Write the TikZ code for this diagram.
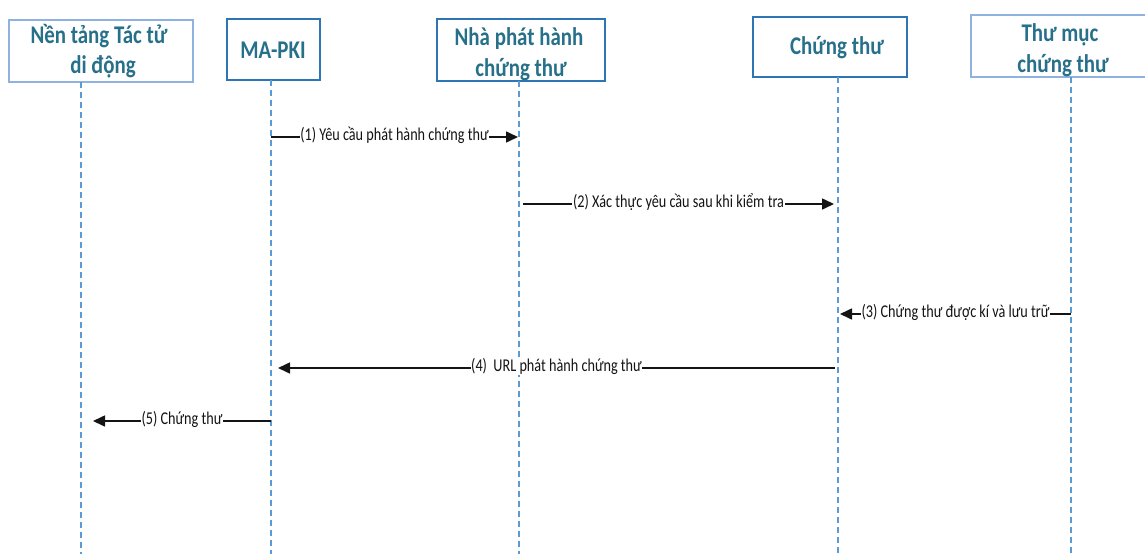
\documentclass[tikz,border=0pt]{standalone}
\usepackage{fontspec}
\usetikzlibrary{arrows.meta}
\newfontfamily\hdrfont[FakeStretch=0.82]{Carlito}
\newfontfamily\msgfont[FakeStretch=0.79]{Carlito}
\definecolor{hdrtext}{RGB}{38,112,138}
\definecolor{boxdark}{RGB}{46,117,182}
\definecolor{boxlight}{RGB}{143,178,224}
\definecolor{lifeblue}{RGB}{91,155,213}
\definecolor{msgcol}{RGB}{20,20,20}
\tikzset{
  actorbox/.style={draw=boxdark, line width=1.8pt, rectangle, inner sep=0pt, outer sep=0pt},
  actorboxlight/.style={draw=boxlight, line width=1.3pt, rectangle, inner sep=0pt, outer sep=0pt},
  hdr/.style={anchor=base, inner sep=0pt, text=hdrtext, font=\hdrfont\bfseries\fontsize{25.5}{30}\selectfont},
  lifeline/.style={draw=lifeblue, line width=1.2pt, dash pattern=on 6pt off 4pt},
  msgline/.style={draw=msgcol, line width=1.6pt, -{Triangle[length=12pt,width=11pt]}},
  msglbl/.style={anchor=base, yshift=-3pt, fill=white, inner xsep=0.6pt, inner ysep=1pt, text=msgcol, font=\msgfont\fontsize{18}{20}\selectfont}
}
\begin{document}
\begin{tikzpicture}[x=1pt, y=-1pt]
\useasboundingbox (0,0) rectangle (1145,554);

% actor boxes
\node[actorboxlight, minimum width=184pt, minimum height=62pt] (b1) at (101,51) {};
\node[actorbox, minimum width=93pt, minimum height=61pt] (b2) at (273.5,49.5) {};
\node[actorbox, minimum width=168pt, minimum height=62pt] (b3) at (521,50) {};
\node[actorbox, minimum width=154pt, minimum height=60pt] (b4) at (830,47) {};
\node[actorboxlight, minimum width=179pt, minimum height=62pt] (b5) at (1060.5,46) {};

% actor titles
\node[hdr] (t1a) at (99,43) {Nền tảng Tác tử};
\node[hdr] (t1b) at (103,73) {di động};
\node[hdr] (t2) at (273,58) {MA-PKI};
\node[hdr] (t3a) at (519,45) {Nhà phát hành};
\node[hdr] (t3b) at (521,76) {chứng thư};
\node[hdr] (t4) at (837,54) {Chứng thư};
\node[hdr] (t5a) at (1060,41) {Thư mục};
\node[hdr] (t5b) at (1063,72) {chứng thư};

% lifelines
\coordinate (l1t) at (81,82);   \coordinate (l1b) at (81,554);
\coordinate (l2t) at (271,80);  \coordinate (l2b) at (271,554);
\coordinate (l3t) at (519,81);  \coordinate (l3b) at (519,554);
\coordinate (l4t) at (838,77);  \coordinate (l4b) at (838,554);
\coordinate (l5t) at (1071,77); \coordinate (l5b) at (1071,554);
\draw[lifeline] (l1t) -- (l1b);
\draw[lifeline] (l2t) -- (l2b);
\draw[lifeline] (l3t) -- (l3b);
\draw[lifeline] (l4t) -- (l4b);
\draw[lifeline] (l5t) -- (l5b);

% message end points
\coordinate (m1a) at (271,137);  \coordinate (m1b) at (518,137);
\coordinate (m2a) at (523,204);  \coordinate (m2b) at (834,204);
\coordinate (m3a) at (1071,314); \coordinate (m3b) at (840,314);
\coordinate (m4a) at (835,368);  \coordinate (m4b) at (278,368);
\coordinate (m5a) at (271,421);  \coordinate (m5b) at (93,421);

% messages
\draw[msgline] (m1a) -- node[msglbl] (g1) {(1) Yêu cầu phát hành chứng thư} (m1b);
\draw[msgline] (m2a) -- node[msglbl] (g2) {(2) Xác thực yêu cầu sau khi kiểm tra} (m2b);
\draw[msgline] (m3a) -- node[msglbl] (g3) {(3) Chứng thư được kí và lưu trữ} (m3b);
\draw[msgline] (m4a) -- node[msglbl] (g4) {(4)\ \ URL phát hành chứng thư} (m4b);
\draw[msgline] (m5a) -- node[msglbl] (g5) {(5) Chứng thư} (m5b);
\end{tikzpicture}
\end{document}
